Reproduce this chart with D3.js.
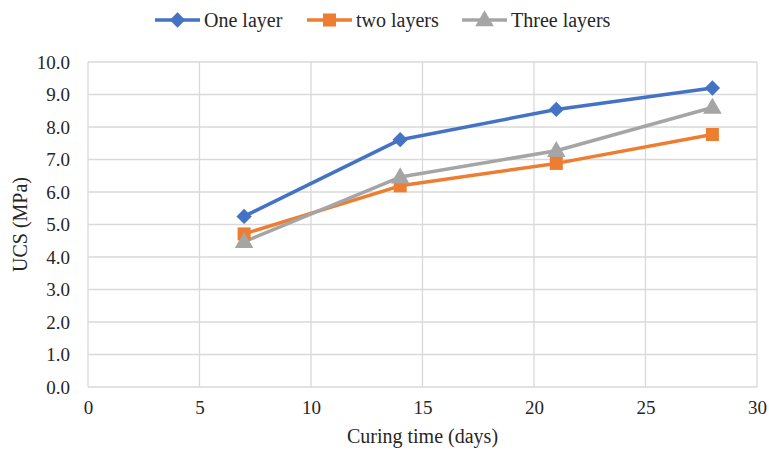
<!DOCTYPE html>
<html><head><meta charset="utf-8">
<script src="https://cdn.jsdelivr.net/npm/d3@7"></script>
<style>body{margin:0;background:#fff}svg{display:block}</style>
</head><body><svg id="c" width="769" height="452"></svg>
<script>
const days = [7, 14, 21, 28];
const oneLayer = [5.25, 7.61, 8.54, 9.2];
const twoLayers = [4.71, 6.19, 6.88, 7.77];
const threeLayers = [4.47, 6.46, 7.27, 8.6];
const seriesNames = ["One layer", "two layers", "Three layers"];
const xTicks = [0, 5, 10, 15, 20, 25, 30];
const yTicks = [0, 1, 2, 3, 4, 5, 6, 7, 8, 9, 10];

const svg = d3.select("#c");
const L = 88, R = 757, T = 62, B = 387;
const x = d3.scaleLinear().domain([0, 30]).range([L, R]);
const y = d3.scaleLinear().domain([0, 10]).range([B, T]);
const grid = "#d9d9d9";

svg.append("g").selectAll("line").data(yTicks).join("line")
  .attr("x1", L).attr("x2", R).attr("y1", d => y(d)).attr("y2", d => y(d))
  .attr("stroke", grid).attr("stroke-width", 1.3);
svg.append("g").selectAll("line").data(xTicks).join("line")
  .attr("y1", T).attr("y2", B).attr("x1", d => x(d)).attr("x2", d => x(d))
  .attr("stroke", grid).attr("stroke-width", 1.3);

const ax = svg.append("g").attr("transform", `translate(0,${B})`)
  .call(d3.axisBottom(x).tickValues(xTicks).tickSize(0).tickPadding(14).tickFormat(d3.format("d")));
ax.select(".domain").remove();
ax.selectAll("text").style("font-size", "19px");
const ay = svg.append("g").attr("transform", `translate(${L},0)`)
  .call(d3.axisLeft(y).tickValues(yTicks).tickSize(0).tickPadding(18).tickFormat(d3.format(".1f")));
ay.select(".domain").remove();
ay.selectAll("text").style("font-size", "19px");

svg.append("text").attr("x", (L + R) / 2 - 0).attr("y", 443).attr("text-anchor", "middle")
  .style("font-size", "20px").text("Curing time (days)");
svg.append("text").attr("transform", `translate(27,${(T + B) / 2}) rotate(-90)`).attr("text-anchor", "middle")
  .style("font-size", "20px").text("UCS (MPa)");

const colors = ["#4472C4", "#ED7D31", "#A5A5A5"];
const allSeries = [oneLayer, twoLayers, threeLayers];
const symbols = [d3.symbol().type(d3.symbolDiamond2).size(150),
                 d3.symbol().type(d3.symbolSquare).size(170),
                 d3.symbol().type(d3.symbolTriangle).size(150)];
const line = d3.line().x((d, i) => x(days[i])).y(d => y(d));

allSeries.forEach((s, k) => {
  svg.append("path").attr("d", line(s)).attr("fill", "none")
    .attr("stroke", colors[k]).attr("stroke-width", 3.5).attr("stroke-linejoin", "round");
});
allSeries.forEach((s, k) => {
  svg.append("g").selectAll("path").data(s).join("path")
    .attr("transform", (d, i) => `translate(${x(days[i])},${y(d) + (k === 2 ? 1 : 0)})`)
    .attr("d", symbols[k]).attr("fill", colors[k]);
});

const legX = [155, 307, 462];
seriesNames.forEach((n, k) => {
  const g = svg.append("g").attr("transform", `translate(${legX[k]},20)`);
  g.append("line").attr("x1", 0).attr("x2", 45).attr("stroke", colors[k]).attr("stroke-width", 3.5);
  g.append("path").attr("transform", `translate(22.5,${k === 2 ? 1 : 0})`).attr("d", symbols[k]).attr("fill", colors[k]);
  g.append("text").attr("x", 49).attr("y", 7).style("font-size", "20px").text(n);
});

svg.selectAll("text")
  .style("font-family", "'Liberation Serif', 'Times New Roman', serif")
  .attr("fill", "#262626");
</script></body></html>
